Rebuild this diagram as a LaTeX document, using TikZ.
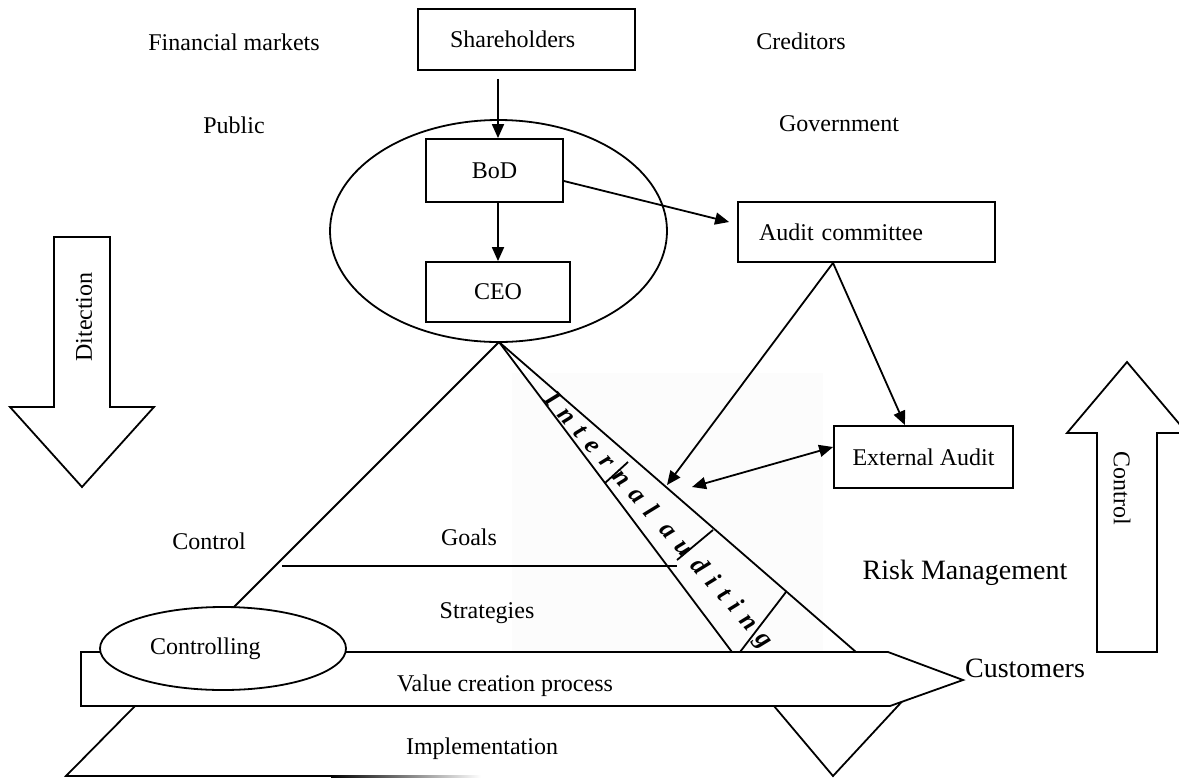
\documentclass[tikz,border=0pt]{standalone}
\usepackage{fontspec}
\setmainfont{Liberation Serif}
\usetikzlibrary{arrows.meta}
\usetikzlibrary{shapes.geometric}
\usetikzlibrary{calc}

\begin{document}
\begin{tikzpicture}[
                x = 0.5pt, y = -0.5pt, % pixel grid, y pointing down
                > = {Triangle[length=7pt,width=6pt]}, % arrow head style
                line width = 0.9pt, % line style
                font = \fontsize{12}{14}\selectfont
        ]

        \tikzstyle{box}=[
            draw = black,
            fill = white,
            rectangle,
            inner ysep = 0pt
        ]
        \tikzstyle{txt}=[inner sep = 0pt]
        \tikzstyle{big}=[inner sep = 0pt, font = \fontsize{14}{16}\selectfont]

        \useasboundingbox (0,0) rectangle (1179,778);

        % faint patch behind the audit strip
        \fill[black!1] (512,373) rectangle (823,652);

        % pyramid
        \coordinate (apex) at (499,342);
        \draw (apex) -- (189,652);
        \draw (apex) -- (732,652);
        \draw (apex) -- (856,652);
        \draw (282,566) -- (677,566);
        \draw (605,483) -- (628,462);
        \draw (677,560) -- (713,530);
        \draw (740,652) -- (786,592);
        \draw (135,706) -- (66,776) -- (331,776);
        \shade[left color=black, right color=white] (331,775) rectangle (481,777);
        \draw (774,706) -- (833,776) -- (902,701.5);

        \node[rotate=-48.5, inner sep=0pt,
              font=\fontsize{13}{15}\selectfont\bfseries\itshape\addfontfeature{LetterSpace=38}]
              (IAT) at (658,521) {Internal auditing};

        % value chain
        \draw[fill=white] (81,652) -- (888,652) -- (963,680) -- (890,706) -- (81,706) -- cycle;
        \node[ellipse, draw, fill=white, inner sep=0pt, minimum width=123pt,
              minimum height=41.5pt, text width=73pt, align=left] (CT) at (223,648.5) {Controlling};

        \node[txt] (VCP) at (505,686) {Value creation process};
        \node[txt] (IMP) at (482,749) {Implementation};
        \node[txt] (GL) at (469,537) {Goals};
        \node[txt] (ST) at (487,613) {Strategies};
        \node[txt] (CL) at (209,541) {Control};
        \node[big] (RM) at (965,573) {Risk Management};
        \node[big] (CU) at (1025,668) {Customers};

        % stakeholders
        \node[txt] (FM) at (234,42) {Financial markets};
        \node[txt] (CR) at (801,41) {Creditors};
        \node[txt] (PB) at (234,125) {Public};
        \node[txt] (GV) at (839,124) {Government};

        % governance
        \node[ellipse, draw, minimum width=168.5pt, minimum height=111pt] (GB) at (498.5,231) {};
        \node[box, minimum width=108.5pt, minimum height=30.5pt, text width=76.5pt,
              inner xsep=16pt, align=left] (SH) at (526.5,39.5) {Shareholders};
        \node[box, minimum width=68.5pt, minimum height=31.5pt] (BOD) at (494.5,170.5) {BoD};
        \node[box, minimum width=72pt, minimum height=30pt] (CEO) at (498,292) {CEO};
        \node[box, minimum width=128.5pt, minimum height=30pt, text width=107.5pt,
              inner xsep=10.5pt, align=left] (AC) at (866.5,232) {Audit committee};
        \node[box, minimum width=89.5pt, minimum height=31pt] (EA) at (923.5,457) {External Audit};

        \coordinate (IA1) at (667,485);
        \coordinate (IA2) at (692,487);

        \draw[->, shorten <= 4pt] (SH.south -| CEO.north) -- (BOD.north -| CEO.north);
        \draw[->] (BOD.south -| CEO.north) -- (CEO.north);
        \draw[->] ([yshift=-5.25pt]BOD.east) -- ([xshift=-4pt,yshift=5pt]AC.west);
        \draw[->] ([xshift=-16.75pt]AC.south) -- (IA1);
        \draw[->] ([xshift=-16.75pt]AC.south) -- ([xshift=-9.25pt]EA.north);
        \draw[<->] (IA2) -- ([yshift=5pt]EA.west);

        % big arrows
        \draw (54,237) -- (110,237) -- (110,407) -- (154,407) -- (82,487) -- (10,407) -- (54,407) -- cycle;
        \node[txt, rotate=90] (DT) at (84,317) {Ditection};
        \draw (1097,652) -- (1157,652) -- (1157,433) -- (1187,433) -- (1127,362) -- (1067,433) -- (1097,433) -- cycle;
        \node[txt, rotate=-90] (CN) at (1122,488) {Control};

        \end{tikzpicture}
\end{document}
